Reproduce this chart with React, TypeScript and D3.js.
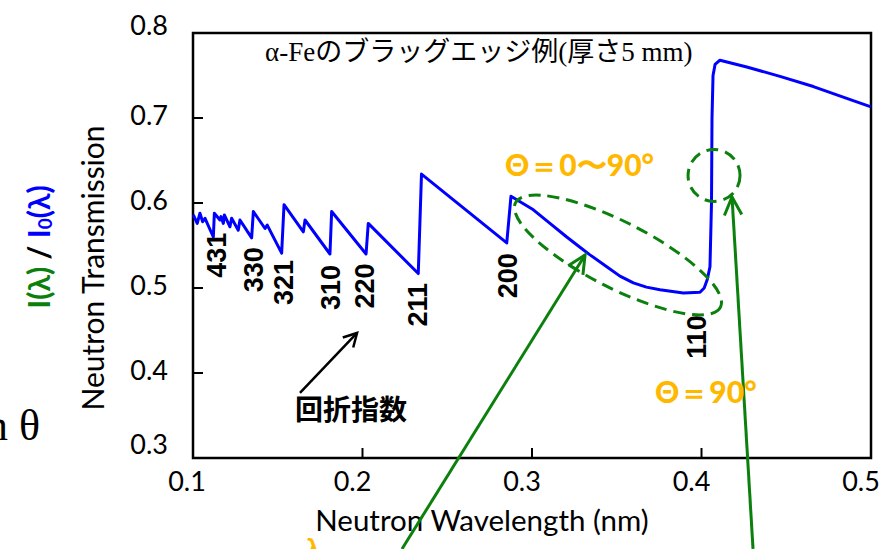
import React from "react";
import * as d3 from "d3";

// Measured transmission spectrum of α-Fe (5 mm thick)
const wavelength = [
  0.1002, 0.1025, 0.1041, 0.1057, 0.1071, 0.112, 0.1126, 0.1159, 0.1165, 0.1179,
  0.1185, 0.1218, 0.1228, 0.1267, 0.1277, 0.1346, 0.1356, 0.1425, 0.1438, 0.1523,
  0.1537, 0.1651, 0.1661, 0.1808, 0.1818, 0.2021, 0.2034, 0.2329, 0.2348, 0.2851,
  0.2876, 0.3008, 0.3106, 0.3205, 0.3283, 0.3342, 0.3441, 0.3519, 0.3598, 0.3675,
  0.3755, 0.3893, 0.3991, 0.4016, 0.4034, 0.405, 0.4059, 0.4062, 0.4068, 0.408,
  0.4109, 0.4267, 0.4463, 0.466, 0.4857, 0.5,
];
const transmission = [
  0.586, 0.576, 0.588, 0.578, 0.582, 0.56, 0.588, 0.58, 0.584, 0.576,
  0.586, 0.572, 0.582, 0.568, 0.58, 0.559, 0.59, 0.57, 0.574, 0.541,
  0.598, 0.566, 0.58, 0.54, 0.59, 0.54, 0.576, 0.517, 0.634, 0.553,
  0.608, 0.592, 0.576, 0.56, 0.548, 0.539, 0.525, 0.514, 0.506, 0.501,
  0.498, 0.494, 0.495, 0.5, 0.51, 0.525, 0.6, 0.7, 0.75, 0.763,
  0.768, 0.76, 0.749, 0.737, 0.723, 0.713,
];

const xTicks = [0.1, 0.2, 0.3, 0.4, 0.5];
const yTicks = [0.3, 0.4, 0.5, 0.6, 0.7, 0.8];

// Miller indices of the Bragg edges, with the wavelength / level where each label sits
const hklLabels = ["431", "330", "321", "310", "220", "211", "200", "110"];
const hklLambda = [0.1141, 0.1359, 0.1535, 0.1812, 0.2012, 0.2329, 0.2859, 0.3976];
const hklTop = [0.565, 0.548, 0.533, 0.527, 0.529, 0.506, 0.541, 0.468];

const BLUE = "#0000ff";
const GREEN = "#0c800c";
const ORANGE = "#ffb800";
const SANS = "Lato, 'Noto Sans', sans-serif";
const ARIAL = "'Liberation Sans', Arial, sans-serif";
const SERIF = "'Liberation Serif', 'Times New Roman', serif";
const CJK = "'Noto Sans CJK JP', sans-serif";

function arrowHead(tx: number, ty: number, hx: number, hy: number, len: number, ang: number) {
  const a = Math.atan2(hy - ty, hx - tx);
  const p1 = [hx - len * Math.cos(a - ang), hy - len * Math.sin(a - ang)];
  const p2 = [hx - len * Math.cos(a + ang), hy - len * Math.sin(a + ang)];
  return `M${p1[0]},${p1[1]} L${hx},${hy} L${p2[0]},${p2[1]}`;
}

export default function App() {
  const W = 894;
  const H = 549;
  const x = d3.scaleLinear().domain([0.1, 0.5]).range([193, 871]);
  const y = d3.scaleLinear().domain([0.3, 0.8]).range([458, 33]);

  const path = d3
    .line<number>()
    .x((_, i) => x(wavelength[i]))
    .y((_, i) => y(transmission[i]))(transmission) as string;

  // annotation anchors in data space
  const ell = { cx: x(0.3507), cy: y(0.5388) };
  const circ = { cx: x(0.4074), cy: y(0.6324) };
  const g1 = { tx: x(0.2233), ty: y(0.193), hx: x(0.3313), hy: y(0.5388) };
  const g2 = { tx: x(0.4304), ty: y(0.193), hx: x(0.418), hy: y(0.6071) };
  const k = { tx: x(0.1631), ty: y(0.3765), hx: x(0.1968), hy: y(0.4471) };

  const yLabelShift = (v: number) => (v === 0.8 ? -9 : v === 0.3 ? -15 : -4);

  return (
    <svg
      width={W}
      height={H}
      viewBox={`0 0 ${W} ${H}`}
      style={{ position: "absolute", left: 0, top: 0, background: "#fff" }}
    >
      <rect x={0} y={0} width={W} height={H} fill="#fff" />

      {/* formula continuing from the left edge */}
      <text x={40} y={440} fontFamily={SERIF} fontSize={44} textAnchor="end" fill="#000">
        sin θ
      </text>

      {/* plot frame */}
      <rect
        x={x(0.1)}
        y={y(0.8)}
        width={x(0.5) - x(0.1)}
        height={y(0.3) - y(0.8)}
        fill="none"
        stroke="#000"
        strokeWidth={2.5}
      />

      {/* ticks (inward) */}
      {yTicks.slice(1, -1).map((v) => (
        <line key={"yt" + v} x1={x(0.1)} x2={x(0.1) + 10} y1={y(v)} y2={y(v)} stroke="#000" strokeWidth={2} />
      ))}
      {xTicks.slice(1, -1).map((v) => (
        <line key={"xt" + v} x1={x(v)} x2={x(v)} y1={y(0.3)} y2={y(0.3) - 10} stroke="#000" strokeWidth={2} />
      ))}

      {/* tick labels */}
      {yTicks.map((v) => (
        <text
          key={"yl" + v}
          x={168}
          y={y(v) + yLabelShift(v)}
          dominantBaseline="central"
          textAnchor="end"
          fontFamily={SANS}
          fontSize={27}
          fill="#000"
        >
          {v.toFixed(1)}
        </text>
      ))}
      {xTicks.map((v) => (
        <text
          key={"xl" + v}
          x={x(v) - (v === 0.1 ? 6 : 10)}
          y={480}
          dominantBaseline="central"
          textAnchor="middle"
          fontFamily={SANS}
          fontSize={27}
          fill="#000"
        >
          {v.toFixed(1)}
        </text>
      ))}

      {/* axis titles */}
      <text
        transform="translate(92,268) rotate(-90)"
        textAnchor="middle"
        dominantBaseline="central"
        fontFamily={SANS}
        fontSize={30}
        fill="#000"
      >
        Neutron Transmission
      </text>
      <text
        transform="translate(38,247) rotate(-90)"
        textAnchor="middle"
        dominantBaseline="central"
        fontFamily={SANS}
        fontWeight="bold"
        fontSize={30}
      >
        <tspan fill={GREEN}>I(λ)</tspan>
        <tspan fill="#000"> / </tspan>
        <tspan fill={BLUE}>I</tspan>
        <tspan fill={BLUE} fontSize={19} dy={6}>0</tspan>
        <tspan fill={BLUE} dy={-6}>(λ)</tspan>
      </text>
      <text x={482} y={531} textAnchor="middle" fontFamily={SANS} fontSize={29.5} fill="#000">
        Neutron Wavelength (nm)
      </text>

      {/* title */}
      <text x={265} y={61} fontSize={27} fill="#000">
        <tspan fontFamily={SERIF}>α-Fe</tspan>
        <tspan fontFamily={CJK}>のブラッグエッジ例</tspan>
        <tspan fontFamily={SERIF}>(</tspan>
        <tspan fontFamily={CJK}>厚さ</tspan>
        <tspan fontFamily={SERIF}>5 mm)</tspan>
      </text>

      {/* transmission spectrum */}
      <path d={path} fill="none" stroke={BLUE} strokeWidth={3} strokeLinejoin="round" />

      {/* Miller index labels */}
      {hklLabels.map((h, i) => (
        <text
          key={h}
          transform={`translate(${x(hklLambda[i])},${y(hklTop[i])}) rotate(-90)`}
          textAnchor="end"
          dominantBaseline="central"
          fontFamily={ARIAL}
          fontWeight="bold"
          fontSize={27}
          fill="#000"
        >
          {h}
        </text>
      ))}

      {/* dashed highlight regions */}
      <ellipse
        cx={ell.cx}
        cy={ell.cy}
        rx={115}
        ry={33}
        transform={`rotate(27 ${ell.cx} ${ell.cy})`}
        fill="none"
        stroke={GREEN}
        strokeWidth={3}
        strokeDasharray="12 7"
      />
      <circle
        cx={circ.cx}
        cy={circ.cy}
        r={26}
        fill="none"
        stroke={GREEN}
        strokeWidth={3}
        strokeDasharray="12 7"
      />

      {/* green pointer arrows */}
      <line x1={g1.tx} y1={g1.ty} x2={g1.hx} y2={g1.hy} stroke={GREEN} strokeWidth={3} />
      <path d={arrowHead(g1.tx, g1.ty, g1.hx, g1.hy, 20, 0.45)} fill="none" stroke={GREEN} strokeWidth={3} />
      <line x1={g2.tx} y1={g2.ty} x2={g2.hx} y2={g2.hy} stroke={GREEN} strokeWidth={3} />
      <path d={arrowHead(g2.tx, g2.ty, g2.hx, g2.hy, 20, 0.45)} fill="none" stroke={GREEN} strokeWidth={3} />

      {/* black arrow to the indices */}
      <line x1={k.tx} y1={k.ty} x2={k.hx} y2={k.hy} stroke="#000" strokeWidth={2.5} />
      <path d={arrowHead(k.tx, k.ty, k.hx, k.hy, 15, 0.5)} fill="none" stroke="#000" strokeWidth={2.5} />
      <text x={351} y={420} textAnchor="middle" fontFamily={CJK} fontWeight="bold" fontSize={28} fill="#000">
        回折指数
      </text>

      {/* angle annotations */}
      <text x={505} y={176} fontFamily={SANS} fontWeight="900" fontSize={30} fill={ORANGE}>
        Θ＝0〜90°
      </text>
      <text x={655} y={403} fontFamily={SANS} fontWeight="900" fontSize={30} fill={ORANGE}>
        Θ＝90°
      </text>
      <text x={306} y={559} fontFamily={SANS} fontWeight="bold" fontSize={28} fill={ORANGE}>
        λ
      </text>
    </svg>
  );
}
